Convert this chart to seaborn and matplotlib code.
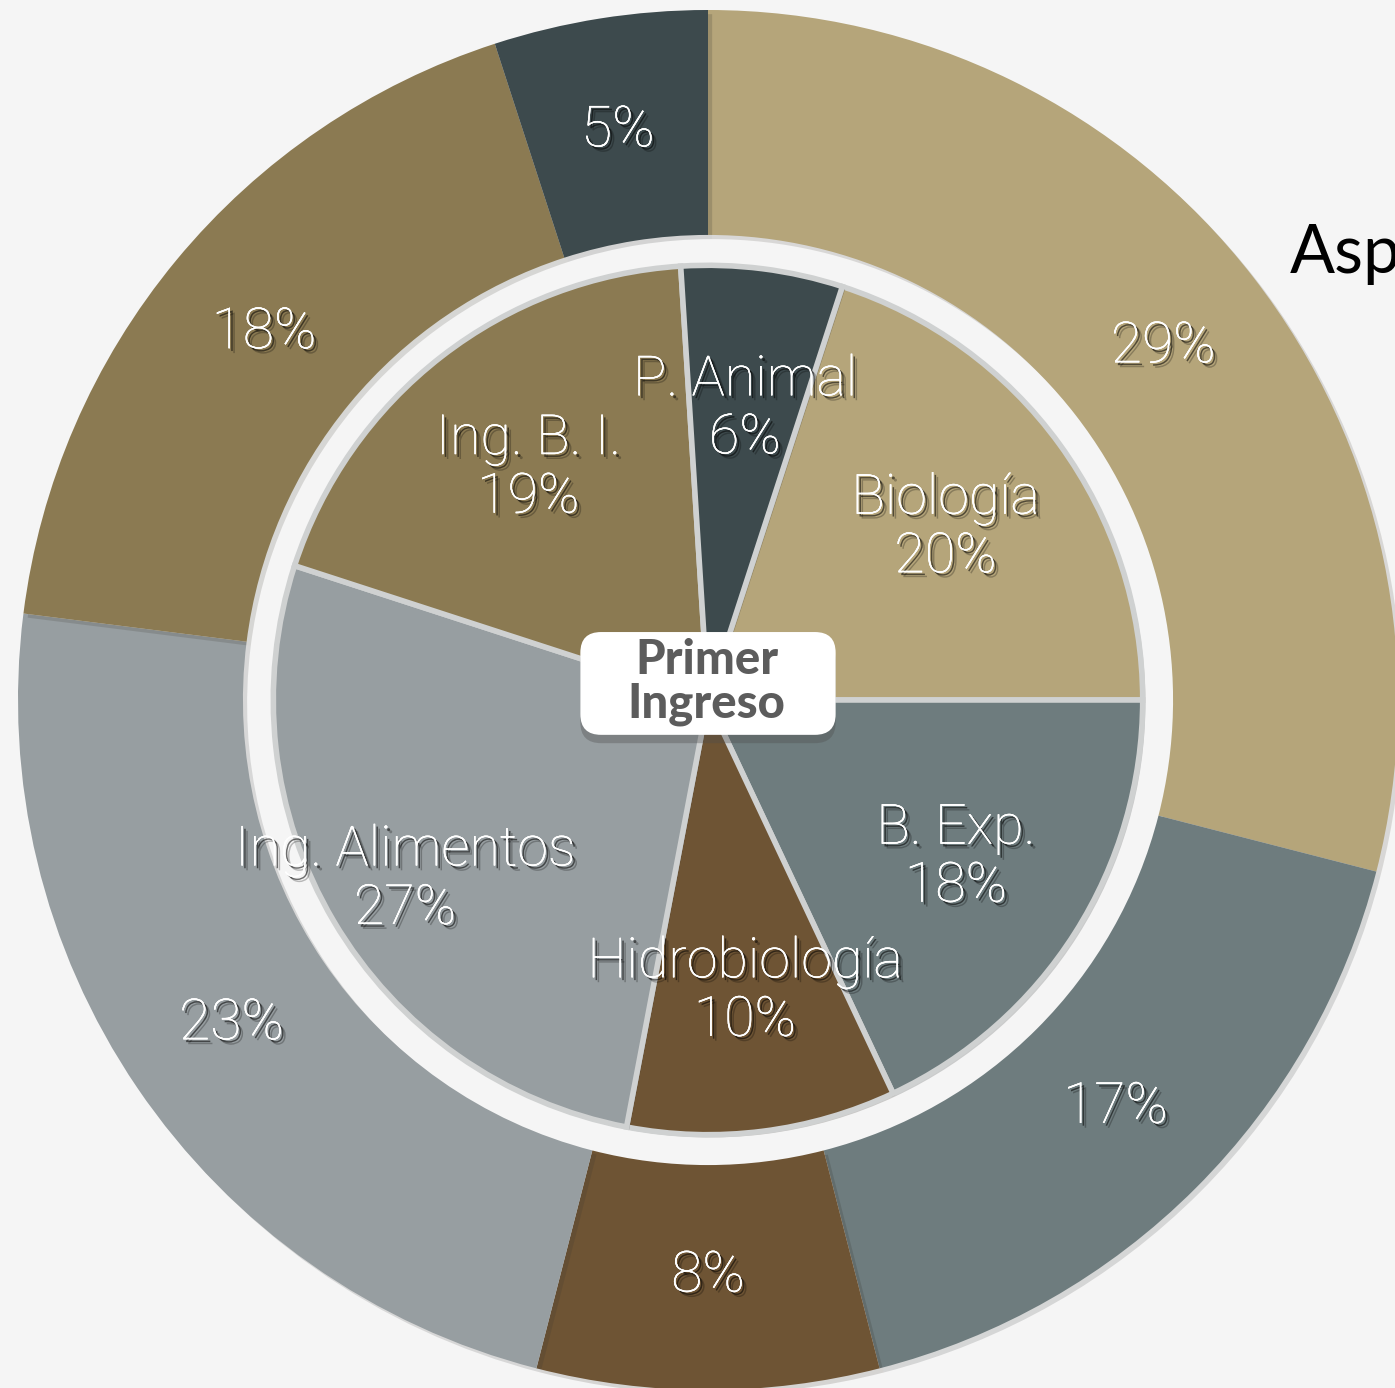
import numpy as np
import matplotlib
matplotlib.use("Agg")
import matplotlib.pyplot as plt
import matplotlib.patheffects as pe
from matplotlib.patches import FancyBboxPatch
import seaborn as sns

# datos
outer_values = [29, 17, 8, 23, 18, 5]
outer_colors = ["#b5a57a", "#6e7c7e", "#6e5434", "#979ea1", "#8b7a52", "#3d4a4d"]

inner_labels = ["Biología", "B. Exp.", "Hidrobiología", "Ing. Alimentos", "Ing. B. I.", "P. Animal"]
inner_values = [20, 18, 10, 27, 19, 6]
inner_colors = ["#b5a57a", "#6e7c7e", "#6e5434", "#979ea1", "#8b7a52", "#3d4a4d"]
inner_label_dist = [0.675, 0.675, 0.675, 0.81, 0.675, 0.675]

center_text = "Primer\nIngreso"
title_text = "Aspirantes"

sns.set_theme(style="white")
plt.rcParams["font.family"] = ["Roboto", "DejaVu Sans"]

W, H = 1395, 1388
cx, cy, R = 708, 700, 690

fig = plt.figure(figsize=(W / 100, H / 100), dpi=100, facecolor="#f5f5f5")
ax = fig.add_axes([0, 0, 1, 1])
ax.set_facecolor("#f5f5f5")

# sombra suave del texto (dos capas)
shadow_txt = [
    pe.withSimplePatchShadow(offset=(3.5, -3.5), shadow_rgbFace="black", alpha=0.25),
    pe.withSimplePatchShadow(offset=(2, -2), shadow_rgbFace="black", alpha=0.55),
    pe.Normal(),
]

# anillo exterior
outer_wedges, _, outer_pcts = ax.pie(
    outer_values, radius=1.0, startangle=90, counterclock=False,
    colors=sns.color_palette(outer_colors),
    wedgeprops=dict(width=0.326, edgecolor="none"),
    autopct="%d%%", pctdistance=0.835,
    textprops=dict(color="white", fontsize=41, fontweight="light"),
)
for w in outer_wedges:
    w.set_path_effects([pe.SimplePatchShadow(offset=(3, -3), alpha=0.15), pe.Normal()])
for t in outer_pcts:
    t.set_path_effects(shadow_txt)

# pastel interior
inner_r = 0.63
inner_wedges, _ = ax.pie(
    inner_values, radius=inner_r, startangle=72, counterclock=False,
    colors=sns.color_palette(inner_colors),
    wedgeprops=dict(edgecolor="#cfd1d1", linewidth=4),
)
for w in inner_wedges:
    w.set_path_effects([pe.SimplePatchShadow(offset=(2, -2), alpha=0.2), pe.Normal()])

for w, name, val, d in zip(inner_wedges, inner_labels, inner_values, inner_label_dist):
    mid = np.deg2rad((w.theta1 + w.theta2) / 2)
    r = inner_r * d
    ax.text(r * np.cos(mid), r * np.sin(mid), f"{name}\n{val}%",
            ha="center", va="center", color="white", fontsize=40,
            fontweight="light", linespacing=1.12, path_effects=shadow_txt)

# etiqueta central
box = FancyBboxPatch((-0.185 + 0.02, 0.024 - 0.0745 + 0.02), 0.37 - 0.04, 0.149 - 0.04,
                     boxstyle="round,pad=0.02,rounding_size=0.03",
                     fc="white", ec="none", zorder=5)
box.set_path_effects([pe.SimplePatchShadow(offset=(0, -6), alpha=0.35), pe.Normal()])
ax.add_patch(box)
ax.text(-0.002, 0.026, center_text, ha="center", va="center",
        fontsize=34, fontweight="black", color="#5c5c5c",
        family=["Lato", "DejaVu Sans"], linespacing=1.0, zorder=6)

# titulo (recortado por el borde, como en el original)
ax.text((1290 - cx) / R, (cy - 273) / R, title_text, ha="left", va="baseline",
        fontsize=48, color="black", family=["Lato", "DejaVu Sans"])

ax.set_xlim(-cx / R, (W - cx) / R)
ax.set_ylim(-(H - cy) / R, cy / R)
ax.set_aspect("auto")
ax.axis("off")

plt.savefig("out.png", dpi=100, facecolor=fig.get_facecolor())
